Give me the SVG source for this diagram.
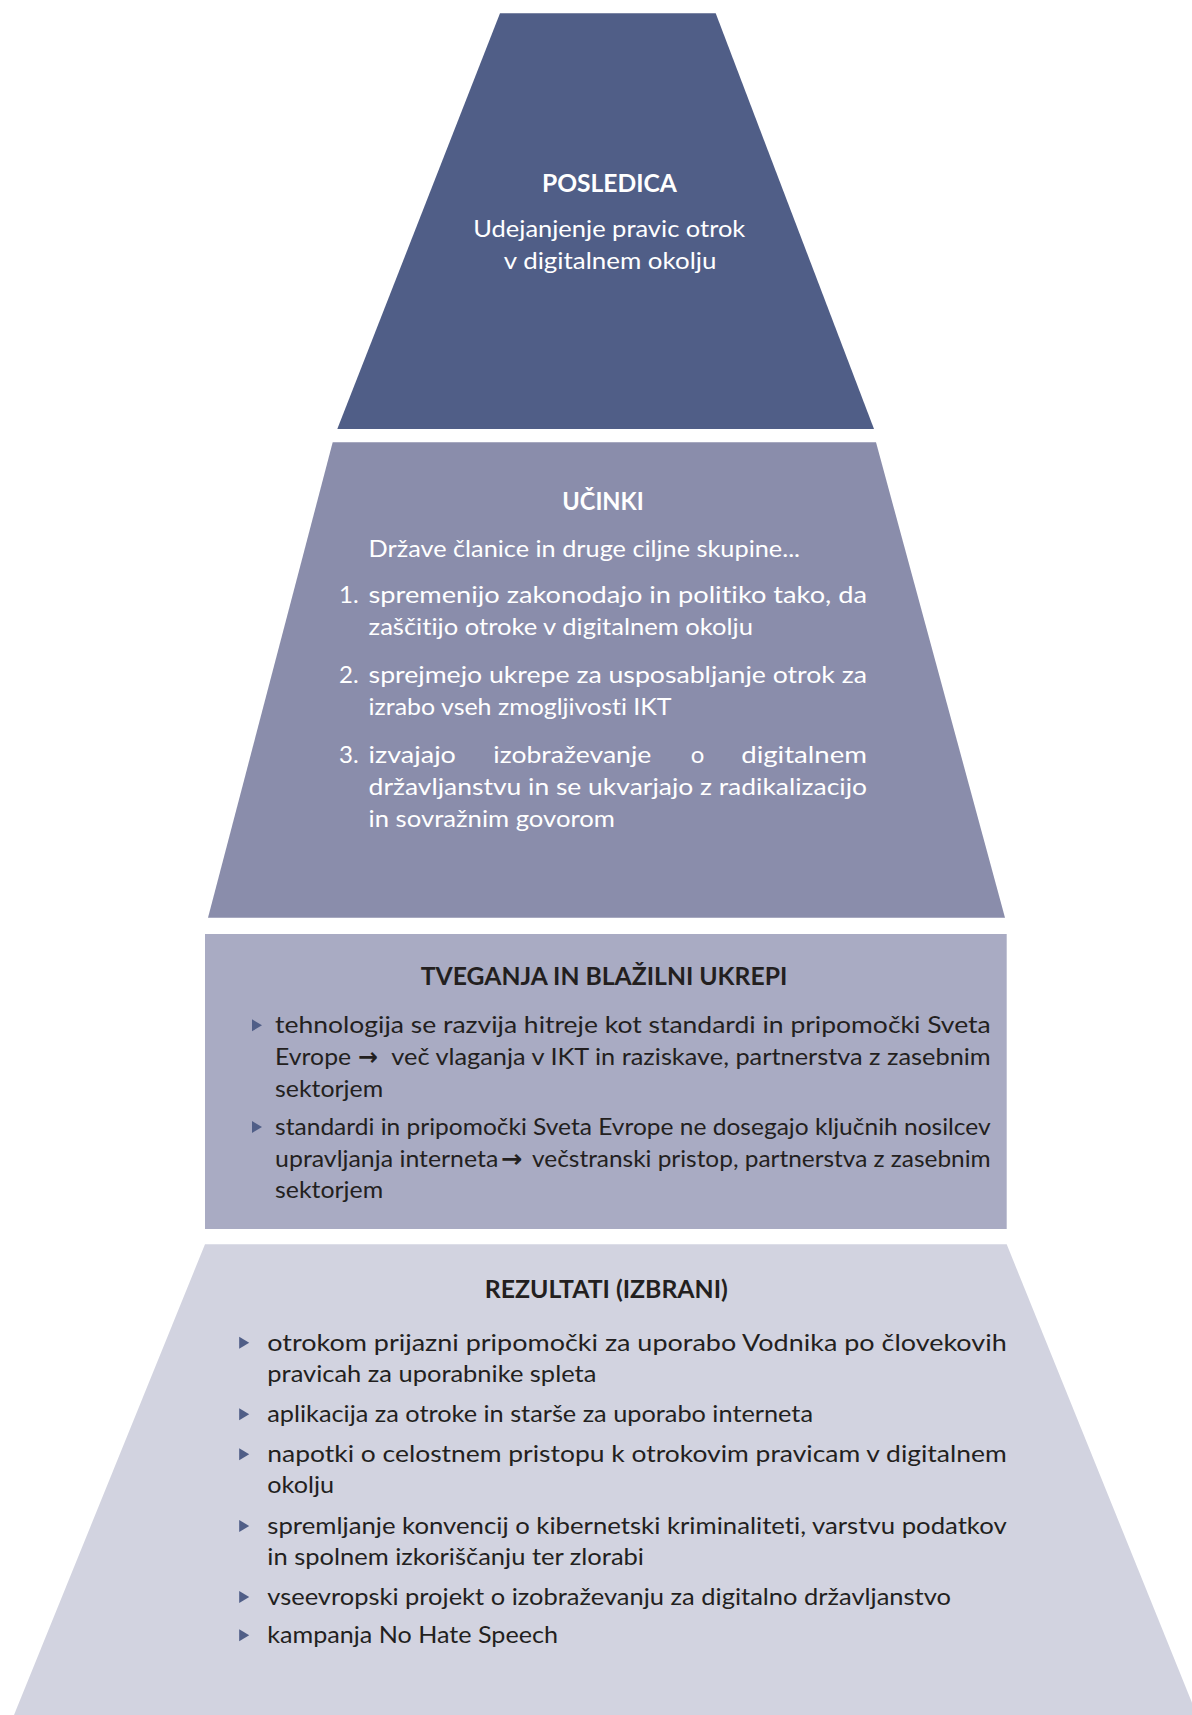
<svg xmlns="http://www.w3.org/2000/svg" width="1192" height="1715" viewBox="0 0 1192 1715">
<style>
text { font-family: Lato, "Open Sans", "DejaVu Sans", sans-serif; font-size: 24px; font-variant-ligatures: none; font-feature-settings: "liga" 0, "dlig" 0; }
.t { font-weight: bold; text-anchor: middle; }
.w { fill: #ffffff; }
.d { fill: #231f20; }
.ar { font-family: "DejaVu Sans", sans-serif; font-weight: bold; font-size: 24px; }
.tri { fill: #505e87; }
</style>
<defs>
<polygon id="b1" points="0,-14 10,-8 0,-2"/>
<polygon id="b2" points="0,-14 10,-8 0,-2"/>
</defs>
<rect x="0" y="0" width="1192" height="1715" fill="#ffffff"/>

<g id="posledica">
<polygon points="500,13.3 715.7,13.3 874,429 337.3,429" fill="#505e87"/>
<text class="t w" x="609.4" y="191.5" textLength="135" lengthAdjust="spacingAndGlyphs">POSLEDICA</text>
<text class="w" x="609.3" y="237" text-anchor="middle" textLength="272" lengthAdjust="spacingAndGlyphs">Udejanjenje pravic otrok</text>
<text class="w" x="610.1" y="269" text-anchor="middle" textLength="212.7" lengthAdjust="spacingAndGlyphs">v digitalnem okolju</text>
</g>

<g id="ucinki">
<polygon points="332.7,442.3 876,442.3 1005,917.7 208,917.7" fill="#8a8dab"/>
<text class="t w" x="603" y="510" textLength="81.4" lengthAdjust="spacingAndGlyphs">UČINKI</text>
<text class="w" x="368.6" y="556.7" textLength="431.5" lengthAdjust="spacingAndGlyphs">Države članice in druge ciljne skupine...</text>
<text class="w" x="339.1" y="603.3">1.</text>
<text class="w" x="368.6" y="603.3" textLength="498.4" lengthAdjust="spacingAndGlyphs">spremenijo zakonodajo in politiko tako, da</text>
<text class="w" x="368.6" y="635" textLength="384.4" lengthAdjust="spacingAndGlyphs">zaščitijo otroke v digitalnem okolju</text>
<text class="w" x="339.1" y="683.3">2.</text>
<text class="w" x="368.6" y="683.3" textLength="498.4" lengthAdjust="spacingAndGlyphs">sprejmejo ukrepe za usposabljanje otrok za</text>
<text class="w" x="368.6" y="715" textLength="303" lengthAdjust="spacingAndGlyphs">izrabo vseh zmogljivosti IKT</text>
<text class="w" x="339.1" y="763.3">3.</text>
<text class="w" x="368.6" y="763.3" textLength="87.3" lengthAdjust="spacingAndGlyphs">izvajajo</text>
<text class="w" x="493.3" y="763.3" textLength="158" lengthAdjust="spacingAndGlyphs">izobraževanje</text>
<text class="w" x="697.5" y="763.3" text-anchor="middle">o</text>
<text class="w" x="741.2" y="763.3" textLength="125.8" lengthAdjust="spacingAndGlyphs">digitalnem</text>
<text class="w" x="368.6" y="795" textLength="498.4" lengthAdjust="spacingAndGlyphs">državljanstvu in se ukvarjajo z radikalizacijo</text>
<text class="w" x="368.6" y="826.7" textLength="246.3" lengthAdjust="spacingAndGlyphs">in sovražnim govorom</text>
</g>

<g id="tveganja">
<rect x="205" y="934" width="801.7" height="295" fill="#a9abc3"/>
<text class="t d" x="604" y="985" textLength="366.6" lengthAdjust="spacingAndGlyphs">TVEGANJA IN BLAŽILNI UKREPI</text>
<use href="#b1" x="252" y="1033.3" class="tri"/>
<text class="d" x="275.1" y="1033.3" textLength="715.6" lengthAdjust="spacingAndGlyphs">tehnologija se razvija hitreje kot standardi in pripomočki Sveta</text>
<text class="d" x="275.1" y="1065" textLength="76" lengthAdjust="spacingAndGlyphs">Evrope</text>
<text class="d ar" x="358" y="1065" textLength="20" lengthAdjust="spacingAndGlyphs">→</text>
<text class="d" x="391.3" y="1065" textLength="599.4" lengthAdjust="spacingAndGlyphs">več vlaganja v IKT in raziskave, partnerstva z zasebnim</text>
<text class="d" x="275.1" y="1096.7" textLength="108" lengthAdjust="spacingAndGlyphs">sektorjem</text>
<use href="#b1" x="252" y="1135" class="tri"/>
<text class="d" x="275.1" y="1135" textLength="715.6" lengthAdjust="spacingAndGlyphs">standardi in pripomočki Sveta Evrope ne dosegajo ključnih nosilcev</text>
<text class="d" x="275.1" y="1166.7" textLength="223.2" lengthAdjust="spacingAndGlyphs">upravljanja interneta</text>
<text class="d ar" x="501" y="1166.7" textLength="21.4" lengthAdjust="spacingAndGlyphs">→</text>
<text class="d" x="532" y="1166.7" textLength="458.7" lengthAdjust="spacingAndGlyphs">večstranski pristop, partnerstva z zasebnim</text>
<text class="d" x="275.1" y="1198.3" textLength="108" lengthAdjust="spacingAndGlyphs">sektorjem</text>
</g>

<g id="rezultati">
<polygon points="205,1244.3 1006.7,1244.3 1197,1715 14,1715" fill="#d2d3e0"/>
<text class="t d" x="606.3" y="1298.3" textLength="243" lengthAdjust="spacingAndGlyphs">REZULTATI (IZBRANI)</text>
<use href="#b2" x="239.2" y="1350.7" class="tri"/>
<text class="d" x="267.3" y="1350.7" textLength="739.4" lengthAdjust="spacingAndGlyphs">otrokom prijazni pripomočki za uporabo Vodnika po človekovih</text>
<text class="d" x="267.3" y="1382.3" textLength="329" lengthAdjust="spacingAndGlyphs">pravicah za uporabnike spleta</text>
<use href="#b2" x="239.2" y="1422.3" class="tri"/>
<text class="d" x="267.3" y="1422.3" textLength="545.7" lengthAdjust="spacingAndGlyphs">aplikacija za otroke in starše za uporabo interneta</text>
<use href="#b2" x="239.2" y="1462.3" class="tri"/>
<text class="d" x="267.3" y="1462.3" textLength="739.4" lengthAdjust="spacingAndGlyphs">napotki o celostnem pristopu k otrokovim pravicam v digitalnem</text>
<text class="d" x="267.3" y="1493.3" textLength="66.7" lengthAdjust="spacingAndGlyphs">okolju</text>
<use href="#b2" x="239.2" y="1534" class="tri"/>
<text class="d" x="267.3" y="1534" textLength="739.4" lengthAdjust="spacingAndGlyphs">spremljanje konvencij o kibernetski kriminaliteti, varstvu podatkov</text>
<text class="d" x="267.3" y="1565" textLength="376.7" lengthAdjust="spacingAndGlyphs">in spolnem izkoriščanju ter zlorabi</text>
<use href="#b2" x="239.2" y="1605" class="tri"/>
<text class="d" x="267.3" y="1605" textLength="683.7" lengthAdjust="spacingAndGlyphs">vseevropski projekt o izobraževanju za digitalno državljanstvo</text>
<use href="#b2" x="239.2" y="1643.3" class="tri"/>
<text class="d" x="267.3" y="1643.3" textLength="290.7" lengthAdjust="spacingAndGlyphs">kampanja No Hate Speech</text>
</g>
</svg>
